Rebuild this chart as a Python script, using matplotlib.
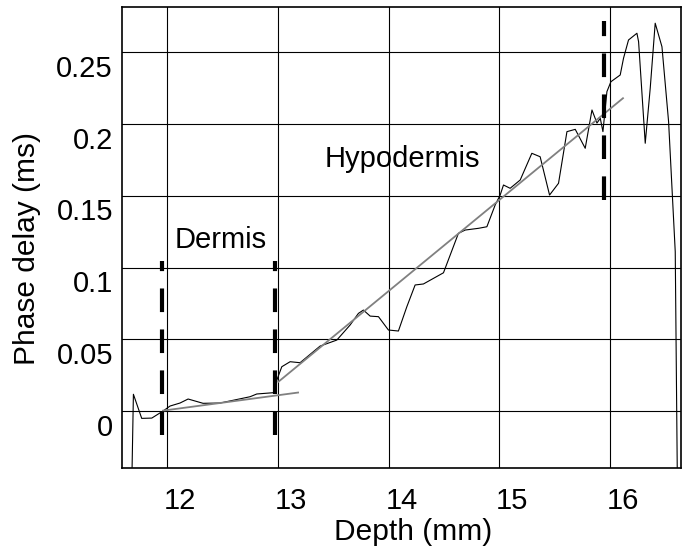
import matplotlib
matplotlib.use("Agg")
import matplotlib.pyplot as plt
from matplotlib.transforms import ScaledTranslation

plt.rcParams['font.family'] = ['Liberation Sans', 'DejaVu Sans']
plt.rcParams['lines.scale_dashes'] = False

# measured phase delay along depth
depth = [11.684, 11.696, 11.771, 11.862, 11.967, 12.027, 12.117, 12.190, 12.325,
         12.479, 12.750, 12.810, 12.960, 12.991, 13.036, 13.111, 13.201, 13.382,
         13.533, 13.653, 13.728, 13.773, 13.834, 13.909, 13.999, 14.089, 14.165,
         14.240, 14.315, 14.496, 14.631, 14.692, 14.812, 14.888, 14.963, 15.008,
         15.038, 15.098, 15.189, 15.294, 15.369, 15.454, 15.535, 15.611, 15.686,
         15.776, 15.837, 15.882, 15.912, 15.936, 15.972, 16.008, 16.092, 16.122,
         16.167, 16.243, 16.258, 16.318, 16.363, 16.408, 16.469, 16.529, 16.589,
         16.607]
delay = [-0.0397, 0.0117, -0.0051, -0.0049, 0.0002, 0.0035, 0.0056, 0.0084, 0.0054,
         0.0056, 0.0100, 0.0119, 0.0128, 0.0216, 0.0309, 0.0344, 0.0337, 0.0453,
         0.0495, 0.0600, 0.0681, 0.0704, 0.0662, 0.0658, 0.0565, 0.0558, 0.0727,
         0.0879, 0.0886, 0.0964, 0.1239, 0.1262, 0.1274, 0.1285, 0.1437, 0.1506,
         0.1576, 0.1553, 0.1611, 0.1797, 0.1773, 0.1506, 0.1588, 0.1948, 0.1964,
         0.1832, 0.2099, 0.2008, 0.2041, 0.1948, 0.2227, 0.2296, 0.2343, 0.2460,
         0.2587, 0.2634, 0.2575, 0.1867, 0.2250, 0.2704, 0.2540, 0.2017, 0.1111,
         -0.0397]

# linear fits
dermis_fit_x = [11.964, 13.183]
dermis_fit_y = [0.0003, 0.0129]
hypo_fit_x = [13.005, 16.117]
hypo_fit_y = [0.0204, 0.2181]

# layer boundaries
boundary_x = [11.950, 12.976, 15.948]
boundary_lo = [-0.0167, -0.0167, 0.147]
boundary_hi = [0.1045, 0.1045, 0.272]

xticks = [12, 13, 14, 15, 16]
yticks = [0, 0.05, 0.1, 0.15, 0.2, 0.25]
ytick_labels = ['0', '0.05', '0.1', '0.15', '0.2', '0.25']

fig = plt.figure(figsize=(6.86, 5.5), dpi=100)
ax = fig.add_axes([122 / 686, 82 / 550, 559 / 686, 461 / 550])

ax.plot(depth, delay, color='black', lw=0.8, zorder=3)
ax.plot(dermis_fit_x, dermis_fit_y, color='#808080', lw=1.3, zorder=4)
ax.plot(hypo_fit_x, hypo_fit_y, color='#808080', lw=1.3, zorder=4)

for bx, lo, hi in zip(boundary_x, boundary_lo, boundary_hi):
    ax.plot([bx, bx], [lo, hi], color='black', lw=3, dashes=(17, 12.5),
            solid_capstyle='butt', dash_capstyle='butt', zorder=5)

ax.text(12.488, 0.1137, 'Dermis', fontsize=21, ha='center', va='baseline')
ax.text(14.123, 0.1704, 'Hypodermis', fontsize=21, ha='center', va='baseline')

ax.set_xlim(11.593, 16.641)
ax.set_ylim(-0.0397, 0.2817)
ax.set_xticks(xticks)
ax.set_xticklabels([str(t) for t in xticks])
ax.set_yticks(yticks)
ax.set_yticklabels(ytick_labels)
ax.tick_params(length=0, labelsize=21)
ax.tick_params(axis='x', pad=13.4)
ax.tick_params(axis='y', pad=6.5)

# labels sit beside their gridlines, not on them
for lab in ax.get_xticklabels():
    lab.set_transform(lab.get_transform() + ScaledTranslation(0.13, 0, fig.dpi_scale_trans))
for lab in ax.get_yticklabels():
    lab.set_transform(lab.get_transform() + ScaledTranslation(0, -0.135, fig.dpi_scale_trans))

ax.grid(True, color='black', lw=0.8)
ax.set_axisbelow(True)
for sp in ax.spines.values():
    sp.set_linewidth(1.2)
    sp.set_color('black')

fig.text(413 / 686, 10 / 550, 'Depth (mm)', fontsize=21.5, ha='center', va='baseline')
fig.text(27.5 / 686, 301.5 / 550, 'Phase delay (ms)', fontsize=21.5, rotation=90,
         ha='center', va='center')

fig.savefig('out.png', dpi=100)
